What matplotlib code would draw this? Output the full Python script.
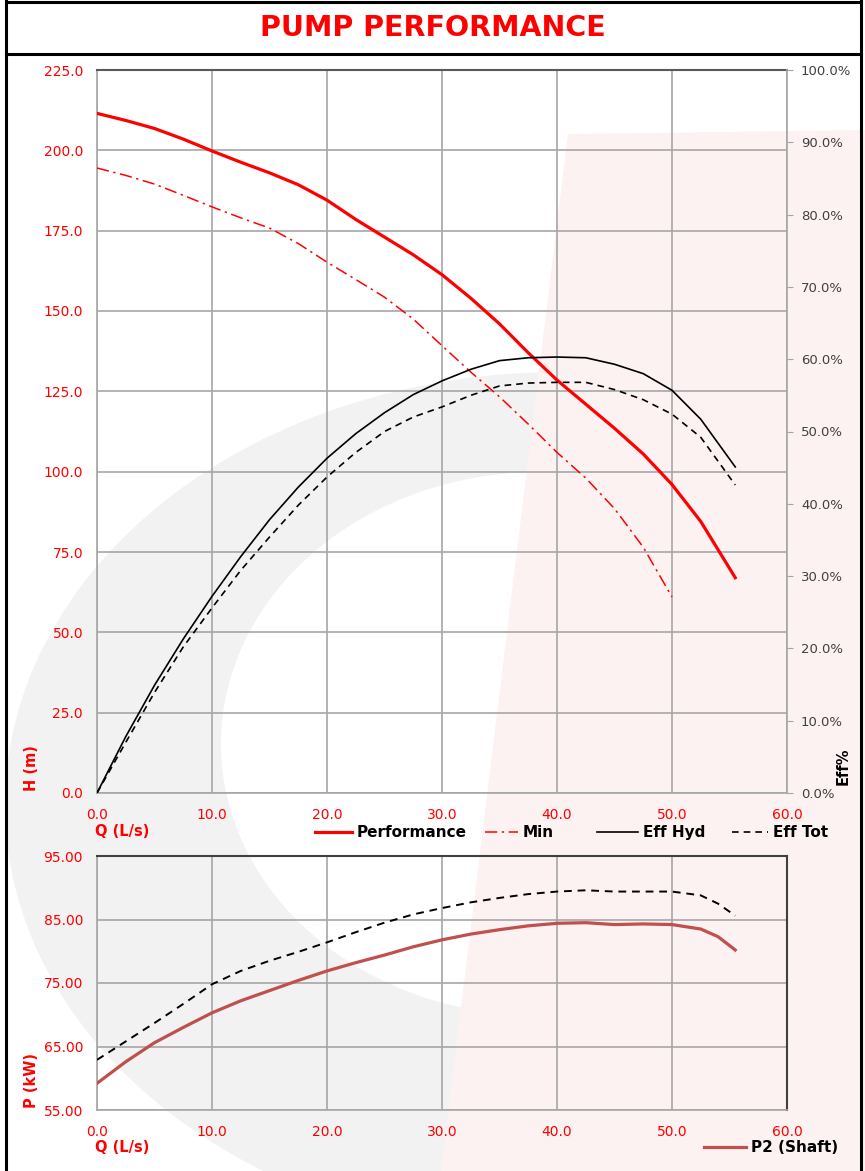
import numpy as np
import matplotlib
matplotlib.use('Agg')
import matplotlib.pyplot as plt
from matplotlib.lines import Line2D
from matplotlib.patches import Ellipse, Polygon
from matplotlib.ticker import FormatStrFormatter, MultipleLocator

# flow points (L/s)
q = [0, 2.5, 5, 7.5, 10, 12.5, 15, 17.5, 20, 22.5, 25, 27.5, 30,
     32.5, 35, 37.5, 40, 42.5, 45, 47.5, 50, 52.5, 55.5]
q_min = q[:21]
q_pow = [0, 2.5, 5, 7.5, 10, 12.5, 15, 17.5, 20, 22.5, 25, 27.5, 30,
         32.5, 35, 37.5, 40, 42.5, 45, 47.5, 50, 52.5, 54, 55.5]

# head (m)
h_perf = [211.5, 209.3, 206.8, 203.5, 199.8, 196.3, 193.0, 189.3, 184.5, 178.5,
          173.0, 167.5, 161.3, 154.0, 146.0, 137.0, 128.5, 121.0, 113.5, 105.5,
          96.0, 84.5, 67.0]
h_min = [194.5, 192.2, 189.5, 186.0, 182.4, 179.0, 175.8, 171.0, 165.2, 159.8,
         154.3, 147.5, 139.2, 131.0, 123.3, 114.8, 106.0, 98.0, 88.5, 76.5, 61.0]

# efficiency (%)
eff_hyd = [0, 7.8, 14.9, 21.3, 27.2, 32.7, 37.8, 42.3, 46.3, 49.7, 52.6, 55.1,
           57.0, 58.6, 59.8, 60.2, 60.3, 60.2, 59.3, 58.0, 55.7, 51.7, 45.1]
eff_tot = [0, 7.0, 13.9, 20.2, 25.6, 30.8, 35.4, 39.8, 43.7, 47.1, 50.0, 52.0,
           53.4, 55.0, 56.3, 56.7, 56.8, 56.8, 55.8, 54.4, 52.4, 49.2, 42.6]

# power (kW)
p2_shaft = [59.2, 62.6, 65.6, 68.0, 70.3, 72.2, 73.8, 75.4, 76.9, 78.2, 79.4,
            80.7, 81.8, 82.7, 83.4, 84.0, 84.4, 84.5, 84.2, 84.3, 84.2, 83.5,
            82.3, 80.2]
p1 = [62.9, 65.8, 68.7, 71.7, 74.8, 76.9, 78.5, 79.9, 81.4, 83.0, 84.5, 85.8,
      86.8, 87.7, 88.4, 89.0, 89.4, 89.6, 89.4, 89.4, 89.4, 88.8, 87.5, 85.6]

legend_labels = ['Performance', 'Min', 'Eff Hyd', 'Eff Tot']

W, H = 865, 1171
RED = '#ff0000'
GRID = '#a6a6a6'

fig = plt.figure(figsize=(W / 100, H / 100), dpi=100)
fig.patch.set_facecolor('white')

# background watermark + frame, drawn in pixel coords
bg = fig.add_axes([0, 0, 1, 1], zorder=-5)
bg.set_xlim(0, W)
bg.set_ylim(H, 0)
bg.axis('off')
bg.add_patch(Ellipse((560, 805), 1110, 866, color='#f2f2f2', lw=0, zorder=1))
bg.add_patch(Ellipse((540, 744), 638, 544, color='white', lw=0, zorder=2))
bg.add_patch(Polygon([(568, 134), (865, 130), (865, 1171), (441, 1171)],
                     closed=True, color='#fdf2f2', lw=0, zorder=3))
bg.add_patch(Polygon([(0, 0), (W, 0), (W, 56), (0, 56)], color='white', lw=0, zorder=4))
bg.plot([6, 6], [0, H], color='black', lw=2.2, zorder=5)
bg.plot([861, 861], [0, H], color='black', lw=2.2, zorder=5)
bg.plot([6, 861], [1.5, 1.5], color='black', lw=2.2, zorder=5)
bg.plot([6, 861], [54, 54], color='black', lw=2.2, zorder=5)

fig.text(0.5, 1 - 28 / H, 'PUMP PERFORMANCE', color=RED, fontsize=20.5,
         fontweight='bold', ha='center', va='center')

# ---- head / efficiency chart
ax = fig.add_axes([97 / W, 1 - 793 / H, 690 / W, 723 / H])
ax.set_facecolor('none')
ax.plot(q, h_perf, color=RED, lw=2.3, zorder=5)
ax.plot(q_min, h_min, color=RED, lw=1.1, dashes=(8, 3, 1.5, 3), zorder=5)
ax.set_xlim(0, 60)
ax.set_ylim(0, 225)
ax.xaxis.set_major_locator(MultipleLocator(10))
ax.yaxis.set_major_locator(MultipleLocator(25))
ax.xaxis.set_major_formatter(FormatStrFormatter('%.1f'))
ax.yaxis.set_major_formatter(FormatStrFormatter('%.1f'))
ax.grid(True, color=GRID, lw=1.2)
ax.set_axisbelow(True)
ax.tick_params(length=0, labelsize=10, labelcolor=RED, pad=10)
ax.tick_params(axis='x', pad=11)
for s in ['left', 'bottom']:
    ax.spines[s].set_color(GRID)
    ax.spines[s].set_linewidth(1.2)
ax.spines['top'].set_color('#595959')
ax.spines['top'].set_linewidth(1.5)
ax.spines['right'].set_visible(False)

ax2 = ax.twinx()
ax2.plot(q, eff_hyd, color='black', lw=1.2, zorder=5)
ax2.plot(q, eff_tot, color='black', lw=1.2, dashes=(4, 3), zorder=5)
ax2.set_ylim(0, 100)
ax2.yaxis.set_major_locator(MultipleLocator(10))
ax2.yaxis.set_major_formatter(FormatStrFormatter('%.1f%%'))
ax2.tick_params(axis='y', length=4, color=GRID, labelsize=9.5,
                labelcolor='#404040', pad=6)
for s in ['left', 'bottom', 'top']:
    ax2.spines[s].set_visible(False)
ax2.spines['right'].set_color(GRID)
ax2.spines['right'].set_linewidth(1.2)

lab = dict(fontsize=10.5, fontweight='bold')
fig.text(32 / W, 1 - 768 / H, 'H (m)', color=RED, rotation=90,
         ha='center', va='center', **lab)
fig.text(122 / W, 1 - 832 / H, 'Q (L/s)', color=RED, ha='center', va='center', **lab)
fig.text(843 / W, 1 - 766 / H, 'Eff%', color='black', rotation=90,
         ha='center', va='center', **lab)

# legend row drawn by hand so all labels share one baseline
leg_styles = [dict(color=RED, lw=2.3),
              dict(color=RED, lw=1.1, dashes=(8, 3, 1.5, 3)),
              dict(color='black', lw=1.2),
              dict(color='black', lw=1.2, dashes=(4, 3))]
leg_x = [315, 485, 597, 732]
leg_len = [37, 33, 41, 36]
for style, text, x0, ln in zip(leg_styles, legend_labels, leg_x, leg_len):
    bg.plot([x0, x0 + ln], [832, 832], zorder=6, **style)
    fig.text((x0 + ln + 5) / W, 1 - 837 / H, text, fontsize=11, fontweight='bold',
             color='black', ha='left', va='baseline')

# ---- power chart
axp = fig.add_axes([97 / W, 1 - 1110 / H, 690 / W, 254 / H])
axp.set_facecolor('none')
l_p2, = axp.plot(q_pow, p2_shaft, color='#c0504d', lw=2.3, zorder=5)
axp.plot(q_pow, p1, color='black', lw=1.4, dashes=(4, 3), zorder=5)
axp.set_xlim(0, 60)
axp.set_ylim(55, 95)
axp.xaxis.set_major_locator(MultipleLocator(10))
axp.set_yticks(np.arange(55, 96, 10))
axp.xaxis.set_major_formatter(FormatStrFormatter('%.1f'))
axp.yaxis.set_major_formatter(FormatStrFormatter('%.2f'))
axp.grid(True, color=GRID, lw=1.2)
axp.set_axisbelow(True)
axp.tick_params(length=0, labelsize=10, labelcolor=RED, pad=10)
axp.tick_params(axis='x', pad=11)
for s in ['left', 'bottom']:
    axp.spines[s].set_color(GRID)
    axp.spines[s].set_linewidth(1.2)
for s in ['top', 'right']:
    axp.spines[s].set_color('#404040')
    axp.spines[s].set_linewidth(1.5)

fig.text(32 / W, 1 - 1080 / H, 'P (kW)', color=RED, rotation=90,
         ha='center', va='center', **lab)
fig.text(122 / W, 1 - 1148 / H, 'Q (L/s)', color=RED, ha='center', va='center', **lab)
fig.legend([l_p2], ['P2 (Shaft)'],
           loc='center right', bbox_to_anchor=(838 / W, 1 - 1148 / H),
           frameon=False, prop={'size': 11, 'weight': 'bold'},
           handlelength=2.8, handletextpad=0.3, borderpad=0, borderaxespad=0)

fig.savefig('out.png', dpi=100)
